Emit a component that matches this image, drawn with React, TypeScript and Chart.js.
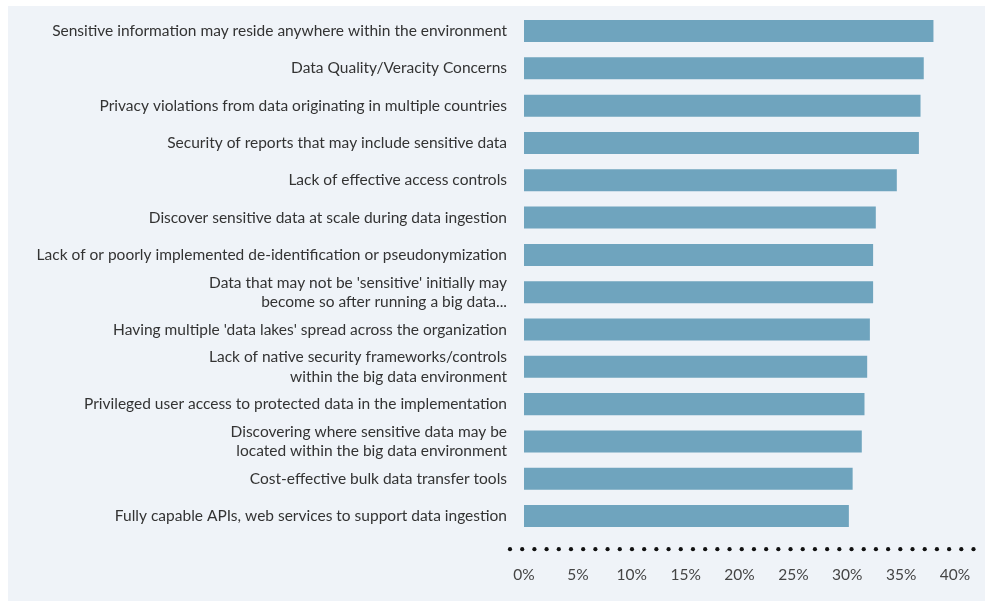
import React, { useEffect, useRef } from "react";
import { Chart, registerables } from "chart.js";

Chart.register(...registerables);

const categories: (string | string[])[] = [
  "Sensitive information may reside anywhere within the environment",
  "Data Quality/Veracity Concerns",
  "Privacy violations from data originating in multiple countries",
  "Security of reports that may include sensitive data",
  "Lack of effective access controls",
  "Discover sensitive data at scale during data ingestion",
  "Lack of or poorly implemented de-identification or pseudonymization",
  ["Data that may not be 'sensitive' initially may", "become so after running a big data..."],
  "Having multiple 'data lakes' spread across the organization",
  ["Lack of native security frameworks/controls", "within the big data environment"],
  "Privileged user access to protected data in the implementation",
  ["Discovering where sensitive data may be", "located within the big data environment"],
  "Cost-effective bulk data transfer tools",
  "Fully capable APIs, web services to support data ingestion",
];

const values: number[] = [38.0, 37.1, 36.8, 36.65, 34.6, 32.65, 32.4, 32.4, 32.1, 31.85, 31.6, 31.35, 30.5, 30.15];

const tickValues: number[] = [0, 5, 10, 15, 20, 25, 30, 35, 40];

const FONT = "Lato, 'Open Sans', sans-serif";

const dottedAxis = {
  id: "dottedAxis",
  afterDraw(chart: any) {
    const { ctx, chartArea } = chart;
    const y = chartArea.bottom + 14.5;
    const start = chartArea.left - 14;
    const end = chartArea.right + 18.5;
    const n = 38;
    const step = (end - start) / n;
    ctx.save();
    ctx.fillStyle = "#111111";
    for (let i = 0; i <= n; i++) {
      ctx.beginPath();
      ctx.arc(start + i * step, y, 2.1, 0, Math.PI * 2);
      ctx.fill();
    }
    ctx.restore();
  },
};

export default function App() {
  const ref = useRef<HTMLCanvasElement | null>(null);
  useEffect(() => {
    if (!ref.current) return;
    const chart = new Chart(ref.current, {
      type: "bar",
      data: {
        labels: categories,
        datasets: [
          {
            data: values,
            backgroundColor: "#6fa4be",
            barPercentage: 0.59,
            categoryPercentage: 1,
          },
        ],
      },
      options: {
        indexAxis: "y",
        animation: false,
        responsive: false,
        maintainAspectRatio: false,
        layout: { padding: { top: 6.4, right: 30, bottom: 0, left: 0 } },
        plugins: { legend: { display: false }, tooltip: { enabled: false } },
        scales: {
          x: {
            min: 0,
            max: 40,
            afterBuildTicks: (scale: any) => {
              scale.ticks = tickValues.map((v) => ({ value: v }));
            },
            afterFit: (scale: any) => {
              scale.height = 66.3;
              scale.paddingLeft = 0;
              scale.paddingRight = 0;
            },
            grid: { display: false, drawTicks: false },
            border: { display: false },
            ticks: {
              padding: 31,
              color: "#444444",
              font: { family: FONT, size: 15.5 },
              callback: (v: any) => v + "%",
              maxRotation: 0,
              autoSkip: false,
            },
          },
          y: {
            afterFit: (scale: any) => {
              scale.width = 516;
              scale.paddingTop = 0;
              scale.paddingBottom = 0;
            },
            grid: { display: false, drawTicks: false },
            border: { display: false },
            ticks: {
              padding: 17,
              color: "#333333",
              font: { family: FONT, size: 15.5, lineHeight: 1.25 },
              autoSkip: false,
            },
          },
        },
      },
      plugins: [dottedAxis],
    });
    return () => chart.destroy();
  }, []);
  return (
    <div
      style={{
        position: "fixed",
        left: 8,
        top: 6,
        width: 977,
        height: 595,
        background: "#eff3f8",
      }}
    >
      <canvas ref={ref} width={977} height={595} style={{ display: "block" }} />
    </div>
  );
}
